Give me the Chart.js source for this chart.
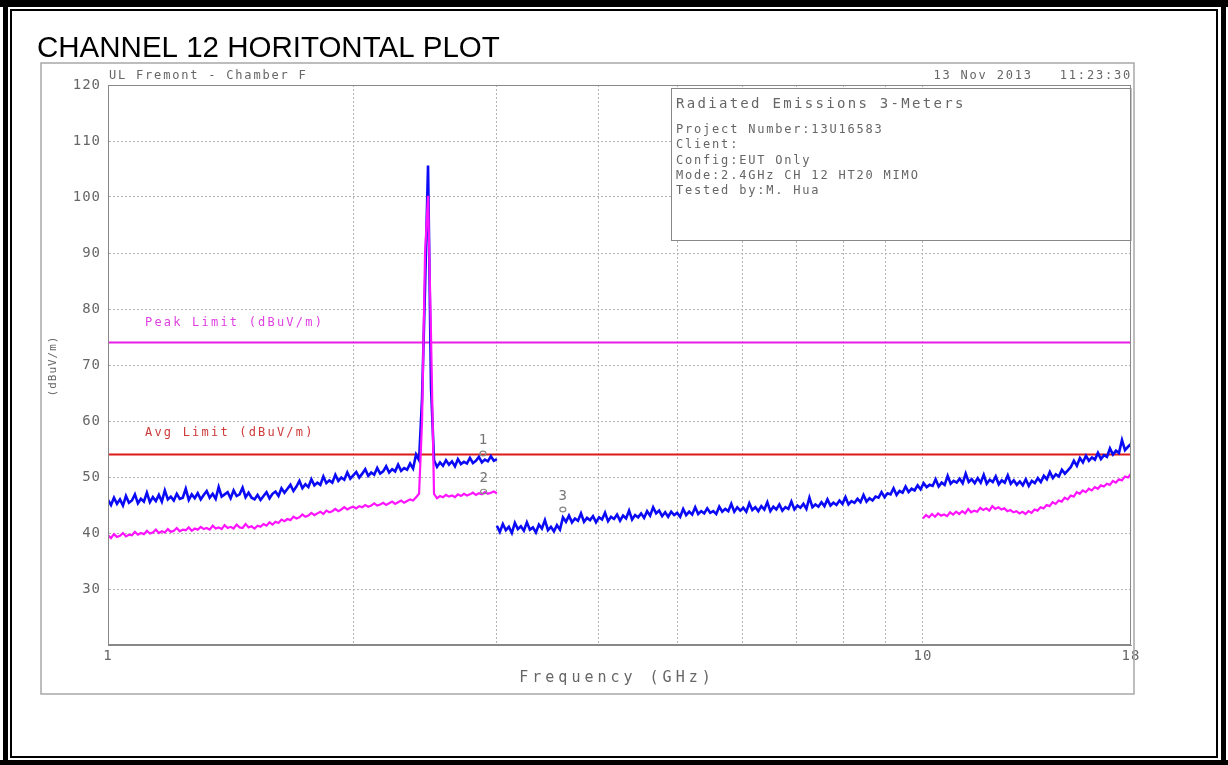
<!DOCTYPE html>
<html><head><meta charset="utf-8">
<script src="https://cdn.jsdelivr.net/npm/chart.js@4.4.0/dist/chart.umd.min.js"></script>
<style>html,body{margin:0;padding:0;background:#fff;overflow:hidden}canvas{display:block}</style>
</head><body>
<canvas id="c" width="1228" height="765"></canvas>
<script>
const pageTitle = 'CHANNEL 12 HORITONTAL PLOT';
const headerLeft = 'UL Fremont - Chamber F';
const headerRight = '13 Nov 2013   11:23:30';
const infoTitle = 'Radiated Emissions 3-Meters';
const infoLines = ['Project Number:13U16583', 'Client:', 'Config:EUT Only', 'Mode:2.4GHz CH 12 HT20 MIMO', 'Tested by:M. Hua'];
const xAxisTitle = 'Frequency (GHz)';
const yAxisTitle = '(dBuV/m)';
const xTickValues = [1, 2, 3, 4, 5, 6, 7, 8, 9, 10, 18];
const xTickLabels = [1, 10, 18];
const yTickValues = [20, 30, 40, 50, 60, 70, 80, 90, 100, 110, 120];

const peakLimit = 74;
const avgLimit = 54;
const peakLimitLabel = 'Peak Limit (dBuV/m)';
const avgLimitLabel = 'Avg Limit (dBuV/m)';

// sweep ranges (GHz)
const sweepLow = [1, 3];
const sweepHigh = [3, 18];
const sweepAvgHigh = [10, 18];

// Peak trace 1-3 GHz (dBuV/m)
const peakLow = [
45.9,45.0,46.3,45.2,46.0,44.9,46.6,45.4,45.8,46.9,
45.3,46.1,45.6,47.2,45.5,46.4,45.7,46.8,45.6,47.6,
46.0,46.5,45.8,47.0,46.1,46.3,47.9,45.9,46.9,46.2,
47.1,46.0,46.8,47.5,46.3,47.0,46.1,48.2,46.5,46.9,
47.3,46.2,47.6,46.6,46.9,48.1,46.4,47.2,46.3,46.0,
46.8,45.9,46.6,47.3,46.2,47.0,47.4,46.6,48.0,47.2,
47.9,48.6,47.5,48.3,49.3,48.0,48.7,48.2,49.6,48.5,
49.0,48.6,50.1,48.9,49.4,49.0,50.4,49.3,49.9,49.5,
50.8,49.7,50.3,50.9,49.9,50.6,51.4,50.2,50.8,50.4,
51.6,50.6,51.0,51.9,50.8,51.4,51.0,52.2,51.1,51.6,
51.3,52.4,51.5,54.0,
53.0,64.0,84.0,105.6,66.0,53.0,
51.8,52.6,52.0,53.0,52.2,52.8,51.9,53.2,52.3,52.7,
52.4,53.4,52.5,52.9,53.6,52.6,53.1,52.8,53.7,52.9,53.2];

// Average trace 1-3 GHz
const avgLow = [
39.6,39.1,39.8,39.3,39.5,40.0,39.4,39.7,39.6,40.2,
39.7,40.0,39.8,40.4,39.9,40.1,40.6,40.0,40.3,40.1,
40.7,40.2,40.4,40.9,40.3,40.6,40.5,41.0,40.4,40.8,
40.6,41.1,40.7,40.9,40.6,41.3,40.8,41.0,40.7,41.4,
40.9,41.1,40.8,41.5,41.0,40.9,41.6,41.0,41.2,40.8,
41.3,41.1,41.6,41.3,41.9,41.5,42.0,41.8,42.4,42.1,
42.5,42.3,42.9,42.6,42.8,43.3,42.9,43.1,43.6,43.2,
43.5,43.8,43.4,44.0,43.7,43.9,44.3,43.9,44.2,44.6,
44.2,44.5,44.7,44.4,44.8,44.6,45.0,44.7,44.9,45.3,
44.9,45.1,45.4,45.0,45.3,45.6,45.2,45.5,45.8,45.4,
45.7,46.0,45.8,46.4,
47.0,60.0,90.0,100.2,75.0,47.0,
46.2,46.6,46.4,46.8,46.5,46.7,46.4,46.9,46.6,47.0,
46.7,46.9,47.2,46.8,47.1,46.9,47.3,47.0,47.2,47.4,47.1];

// Peak trace 3-18 GHz
const peakHigh = [
41.3,40.2,41.6,40.5,41.1,40.0,41.8,40.7,41.2,40.4,
41.9,40.6,41.0,40.1,41.5,40.8,42.3,40.5,41.1,40.3,
41.4,40.6,42.8,42.0,43.1,41.9,42.6,42.2,43.5,42.0,
42.7,42.3,43.0,41.9,42.8,42.4,43.6,42.1,42.9,42.5,
43.3,42.2,43.1,42.6,44.0,42.4,43.2,42.8,43.5,42.7,
43.9,43.1,44.6,43.5,44.0,43.0,43.7,42.9,43.8,43.2,
43.6,42.9,44.3,43.2,43.8,43.3,44.6,43.4,43.9,43.5,
44.4,43.6,43.9,43.4,44.7,43.8,44.3,43.9,45.2,43.8,
44.6,44.0,44.5,43.8,45.3,44.1,44.6,43.9,44.8,44.2,
45.5,43.9,44.7,44.2,45.1,44.0,44.6,44.3,45.6,44.2,
44.9,44.5,45.2,44.3,46.3,44.6,45.1,44.7,45.5,44.8,
46.0,44.9,45.4,45.0,45.8,45.2,46.4,45.1,45.7,45.4,
46.1,45.5,46.8,45.6,46.2,45.8,46.5,46.3,47.3,46.4,
47.1,46.9,48.0,46.8,47.5,47.2,48.3,47.3,47.9,47.6,
48.5,47.8,48.9,48.2,48.6,48.4,49.6,48.3,49.0,48.6,
50.2,48.8,49.3,49.0,49.7,48.9,50.6,49.1,49.6,48.9,
49.8,49.0,50.4,48.8,49.5,49.1,50.1,48.7,49.4,49.0,
50.3,48.8,49.4,48.6,49.2,48.5,49.6,48.4,49.3,48.9,
49.8,49.1,50.2,49.6,50.9,49.8,50.5,50.1,51.3,50.6,
51.2,51.8,52.9,52.0,53.4,52.6,53.8,52.9,53.5,53.1,
54.3,53.2,53.9,53.6,55.1,54.0,54.7,54.3,56.6,54.8,55.4,55.9];

// Average trace 10-18 GHz
const avgHigh = [
42.6,43.2,42.8,43.4,42.9,43.5,43.1,43.3,43.0,43.7,
43.3,43.8,43.4,43.9,43.5,44.3,43.7,44.0,43.8,44.5,
44.1,44.4,44.0,44.8,44.3,44.6,44.2,44.4,43.9,44.1,
43.7,43.9,43.5,43.8,43.4,43.9,43.6,44.2,44.0,44.6,
44.4,45.0,44.8,45.5,45.2,45.8,45.6,46.3,46.0,46.7,
46.5,47.3,47.0,47.6,47.3,47.9,47.6,48.2,47.9,48.5,
48.3,48.8,48.6,49.3,49.0,49.6,49.4,50.1,49.9,50.6];

// marker readouts: label, frequency (GHz), level (dBuV/m)
const markerLabels = ['1', '2', '3'];
const markerFreqs = [2.885, 2.89, 3.615];
const markerLevels = [54.2, 47.4, 44.2];

const MONO = '"DejaVu Sans Mono", monospace';
const TXT = '#666666';

function sweep(range, values) {
  const n = values.length;
  return values.map((v, i) => ({ x: range[0] * Math.pow(range[1] / range[0], i / (n - 1)), y: v }));
}

function txt(c, s, x, y, font, color, align, spacing) {
  c.save();
  c.font = font; c.fillStyle = color; c.textAlign = align || 'left'; c.textBaseline = 'middle';
  c.letterSpacing = (spacing || 0) + 'px';
  c.fillText(s, x, y);
  c.restore();
}

const deco = {
  id: 'deco',
  beforeDraw(chart) {
    chart.ctx.letterSpacing = '1px';
  },
  beforeDatasetsDraw(chart) {
    const c = chart.ctx, a = chart.chartArea;
    c.save();
    c.fillStyle = '#fff';
    c.fillRect(671, a.top + 3, a.right - 671, 152);
    c.strokeStyle = '#888'; c.lineWidth = 1;
    c.strokeRect(671.5, a.top + 3.5, a.right - 671.5, 152);
    c.restore();
    txt(c, infoTitle, 676, 104, '14px ' + MONO, TXT, 'left', 2.3);
    infoLines.forEach((s, i) => txt(c, s, 676, 130 + i * 15.2, '12px ' + MONO, TXT, 'left', 1.8));
    // limit labels
    txt(c, peakLimitLabel, 145, 323, '12px ' + MONO, '#e040e0', 'left', 2.2);
    txt(c, avgLimitLabel, 145, 433, '12px ' + MONO, '#cc3a3a', 'left', 2.2);
  },
  afterDraw(chart) {
    const c = chart.ctx, a = chart.chartArea;
    const xs = chart.scales.x, ys = chart.scales.y;
    // plot border
    c.save();
    c.strokeStyle = '#888'; c.lineWidth = 1;
    c.strokeRect(a.left + 0.5, a.top + 0.5, a.right - a.left - 1, a.bottom - a.top - 1);
    c.restore();
    // markers
    markerLabels.forEach((m, i) => {
      const px = xs.getPixelForValue(markerFreqs[i]);
      const py = ys.getPixelForValue(markerLevels[i]);
      txt(c, m, px, py - 13, '14px ' + MONO, '#777', 'center', 0);
      c.save();
      c.strokeStyle = '#888'; c.lineWidth = 1.2;
      c.beginPath(); c.ellipse(px, py, 3, 2.3, 0, 0, Math.PI * 2); c.stroke();
      c.restore();
    });
    // header texts
    txt(c, headerLeft, 109, 76, '12px ' + MONO, TXT, 'left', 1.8);
    txt(c, headerRight, 1132, 76, '12px ' + MONO, TXT, 'right', 1.8);
    txt(c, xAxisTitle, 617, 678, '15px ' + MONO, TXT, 'center', 4);
    c.save();
    c.translate(53, 366); c.rotate(-Math.PI / 2);
    txt(c, yAxisTitle, 0, 0, '11px ' + MONO, TXT, 'center', 1);
    c.restore();
    // page title
    c.save();
    c.font = '29.5px "Liberation Sans", Arial, sans-serif';
    c.fillStyle = '#000'; c.textBaseline = 'alphabetic'; c.letterSpacing = '0px';
    c.fillText(pageTitle, 37, 57);
    c.restore();
    // gray frame
    c.save();
    c.strokeStyle = '#a8a8a8'; c.lineWidth = 1.5;
    c.strokeRect(41, 63, 1093, 631);
    c.restore();
    // outer black frame
    c.save();
    c.fillStyle = '#000';
    c.fillRect(0, 0, 1228, 7);
    c.fillRect(3, 0, 5, 765);
    c.fillRect(1221, 0, 5, 765);
    c.fillRect(0, 760, 1228, 5);
    c.strokeStyle = '#000'; c.lineWidth = 2;
    c.strokeRect(11, 10, 1206, 747);
    c.restore();
  }
};

const chart = new Chart(document.getElementById('c'), {
  type: 'line',
  data: {
    datasets: [
      { label: 'Average 1-3 GHz', data: sweep(sweepLow, avgLow), borderColor: '#ff14ff', borderWidth: 2.2, pointRadius: 0, tension: 0 },
      { label: 'Average 10-18 GHz', data: sweep(sweepAvgHigh, avgHigh), borderColor: '#ff14ff', borderWidth: 2.2, pointRadius: 0, tension: 0 },
      { label: 'Peak 1-3 GHz', data: sweep(sweepLow, peakLow), borderColor: '#0a0af5', borderWidth: 2.6, pointRadius: 0, tension: 0 },
      { label: 'Peak 3-18 GHz', data: sweep(sweepHigh, peakHigh), borderColor: '#0a0af5', borderWidth: 2.6, pointRadius: 0, tension: 0 },
      { label: 'Peak Limit', data: [{ x: 1, y: peakLimit }, { x: 18, y: peakLimit }], borderColor: '#e81ee8', borderWidth: 2, pointRadius: 0 },
      { label: 'Avg Limit', data: [{ x: 1, y: avgLimit }, { x: 18, y: avgLimit }], borderColor: '#dd1a1a', borderWidth: 2, pointRadius: 0 }
    ]
  },
  options: {
    responsive: false,
    animation: false,
    events: [],
    layout: { padding: { left: 0, top: 85, right: 97, bottom: 80 } },
    plugins: { legend: { display: false }, tooltip: { enabled: false } },
    scales: {
      x: {
        type: 'logarithmic', min: 1, max: 18,
        afterBuildTicks: s => { s.ticks = xTickValues.map(v => ({ value: v })); },
        afterFit: s => { s.height = 40; },
        ticks: {
          autoSkip: false, maxRotation: 0, padding: 3, color: TXT,
          font: { family: MONO, size: 14 },
          callback: v => xTickLabels.includes(v) ? String(v) : ''
        },
        grid: {
          drawTicks: false, lineWidth: 1,
          color: ctx => (ctx.tick && ctx.tick.value > 1 && ctx.tick.value <= 10) ? '#b4b4b4' : 'rgba(0,0,0,0)'
        },
        border: { display: true, color: '#888', dash: [2, 2] }
      },
      y: {
        min: 20, max: 120,
        afterBuildTicks: s => { s.ticks = yTickValues.map(v => ({ value: v })); },
        afterFit: s => { s.width = 108; },
        ticks: {
          padding: 7, color: TXT, font: { family: MONO, size: 14 },
          callback: v => v === 20 ? '' : String(v)
        },
        grid: {
          drawTicks: false, lineWidth: 1,
          color: ctx => (ctx.tick && ctx.tick.value > 20 && ctx.tick.value < 120) ? '#b4b4b4' : 'rgba(0,0,0,0)'
        },
        border: { display: true, color: '#888', dash: [2, 2] }
      }
    }
  },
  plugins: [deco]
});
</script>
</body></html>
